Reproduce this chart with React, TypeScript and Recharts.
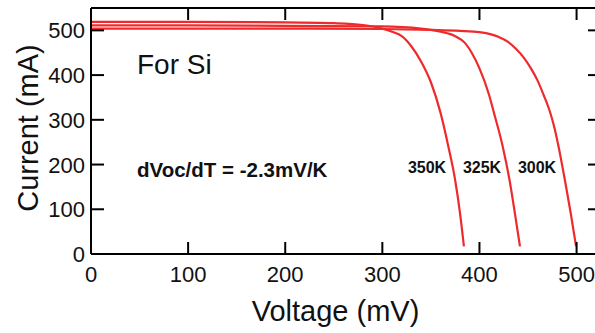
import { Line, LineChart, XAxis, YAxis } from 'recharts'

// I-V curves of a Si cell at three temperatures
const voltage350 = [0, 100, 200, 250, 280, 300, 310, 320, 330, 340, 350, 360, 368, 375, 380, 384]
const current350 = [519, 519, 518, 516, 512, 504, 497, 487, 464, 430, 384, 315, 240, 165, 91, 17]

const voltage325 = [0, 100, 200, 300, 340, 360, 375, 385, 392, 400, 410, 415, 424, 431, 436.5, 441.7]
const current325 = [511, 511, 510, 509, 504, 497, 487, 472, 450, 415, 355, 315, 240, 165, 91, 17]

const voltage300 = [0, 100, 200, 300, 350, 380, 400, 412, 420, 429, 437, 446, 453, 460, 466, 472, 477, 481, 488, 494, 499.5]
const current300 = [504, 504, 504, 503, 501, 499, 496, 491, 485, 475, 460, 438, 415, 387, 356, 322, 284, 245, 165, 91, 17]

const xTicks = [0, 100, 200, 300, 400, 500]
const yTicks = [0, 100, 200, 300, 400, 500]

const d350 = voltage350.map((v, k) => ({ v, i: current350[k] }))
const d325 = voltage325.map((v, k) => ({ v, i: current325[k] }))
const d300 = voltage300.map((v, k) => ({ v, i: current300[k] }))

const FONT = '"Liberation Sans", Arial, Helvetica, sans-serif'
const RED = '#ef2a2c'

const BottomTick = ({ x, y, payload }: any) => (
  <g>
    <line x1={x} y1={y} x2={x} y2={y - 12} stroke="#000" strokeWidth={2} />
    <text x={x} y={y + 28} textAnchor="middle" fontSize={22} fontFamily={FONT} fill="#111">{payload.value}</text>
  </g>
)
const LeftTick = ({ x, y, payload }: any) => (
  <g>
    <line x1={x} y1={y} x2={x + 13} y2={y} stroke="#000" strokeWidth={2} />
    <text x={x - 6} y={y + 8} textAnchor="end" fontSize={22} fontFamily={FONT} fill="#111">{payload.value}</text>
  </g>
)
const TopTick = ({ x, y }: any) => (
  <g>
    <line x1={x} y1={y} x2={x} y2={y + 12} stroke="#000" strokeWidth={2} />
  </g>
)
const RightTick = ({ x, y }: any) => (
  <g>
    <line x1={x} y1={y} x2={x - 8} y2={y} stroke="#000" strokeWidth={2} />
  </g>
)

const note = (left: number, top: number, size: number, bold = false): React.CSSProperties => ({
  position: 'absolute', left, top, fontSize: size, fontWeight: bold ? 700 : 400,
  fontFamily: FONT, color: '#111', lineHeight: 1, whiteSpace: 'nowrap',
})

export default function App() {
  return (
    <div style={{ position: 'absolute', left: 0, top: 0, width: 595, height: 333, overflow: 'hidden', background: '#fff' }}>
      <div style={{ ...note(28, 128, 29), transform: 'translate(-50%, -50%) rotate(-90deg)' }}>Current (mA)</div>
      <div style={{ ...note(335.5, 297, 29), transform: 'translateX(-50%)' }}>Voltage (mV)</div>
      <div style={note(137, 51, 28)}>For Si</div>
      <div style={note(137, 160, 20.5, true)}>dVoc/dT = -2.3mV/K</div>
      <div style={{ ...note(427, 160, 16, true), transform: 'translateX(-50%)' }}>350K</div>
      <div style={{ ...note(482, 160, 16, true), transform: 'translateX(-50%)' }}>325K</div>
      <div style={{ ...note(537, 160, 16, true), transform: 'translateX(-50%)' }}>300K</div>
      <div style={{ position: 'absolute', left: 0, top: 0 }}>
        <LineChart width={597} height={333} margin={{ top: 7, right: 0, bottom: 0, left: 0 }}>
          <XAxis xAxisId="bottom" dataKey="v" type="number" domain={[0, 520]} ticks={xTicks} interval={0} height={79}
            axisLine={{ stroke: '#000', strokeWidth: 2 }} tickLine={false} tickSize={0} tickMargin={0} tick={<BottomTick />} />
          <XAxis xAxisId="top" dataKey="v" orientation="top" type="number" domain={[0, 520]} ticks={xTicks} interval={0} height={1}
            axisLine={{ stroke: '#000', strokeWidth: 2 }} tickLine={false} tickSize={0} tickMargin={0} tick={<TopTick />} />
          <YAxis yAxisId="left" type="number" domain={[0, 550]} ticks={yTicks} interval={0} width={91}
            axisLine={{ stroke: '#000', strokeWidth: 2 }} tickLine={false} tickSize={0} tickMargin={0} tick={<LeftTick />} />
          <YAxis yAxisId="right" orientation="right" type="number" domain={[0, 550]} ticks={yTicks} interval={0} width={1}
            axisLine={{ stroke: '#000', strokeWidth: 2 }} tickLine={false} tickSize={0} tickMargin={0} tick={<RightTick />} />
          <Line xAxisId="bottom" yAxisId="left" data={d350} dataKey="i" name="350K" type="monotone"
            stroke={RED} strokeWidth={2.2} dot={false} isAnimationActive={false} />
          <Line xAxisId="top" yAxisId="right" data={d325} dataKey="i" name="325K" type="monotone"
            stroke={RED} strokeWidth={2.2} dot={false} isAnimationActive={false} />
          <Line xAxisId="bottom" yAxisId="left" data={d300} dataKey="i" name="300K" type="monotone"
            stroke={RED} strokeWidth={2.2} dot={false} isAnimationActive={false} />
        </LineChart>
      </div>
    </div>
  )
}
